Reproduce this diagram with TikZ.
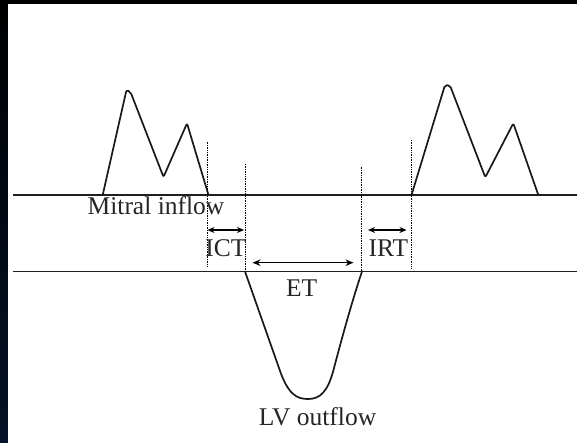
\documentclass[tikz,border=0pt]{standalone}
\usepackage{fontspec}
\setmainfont{Liberation Serif}
\usetikzlibrary{arrows.meta}
\begin{document}
\begin{tikzpicture}[x=1pt,y=-1pt,
  curve/.style={draw=black!90,line width=1.7pt,line join=round,line cap=round},
  base/.style={draw=black!88,line width=1.4pt},
  guide/.style={draw=black,line width=0.9pt,dash pattern=on 1pt off 0.7pt},
  dimarrow/.style={draw=black,line width=1.2pt,{Stealth[length=8pt,width=6.5pt]}-{Stealth[length=8pt,width=6.5pt]}},
  smallarrow/.style={draw=black,line width=1.2pt,{Stealth[length=7pt,width=6pt]}-{Stealth[length=7pt,width=6pt]}},
  lbl/.style={font=\fontsize{25.5}{29}\selectfont,text=black!85,inner sep=0pt,anchor=base}]
% background and frame
\useasboundingbox (0,0) rectangle (577,443);
\fill[black] (0,0) rectangle (577,443);
\shade[top color=black,bottom color={rgb,255:red,6;green,18;blue,40}] (0,0) rectangle (7.7,443);
\fill[white] (7.7,4.5) rectangle (577,443);
% baselines
\coordinate (u0) at (13,195); \coordinate (u1) at (577,195);
\coordinate (l0) at (13,271.5); \coordinate (l1) at (577,271.5);
\draw[base] (u0) -- (u1);
\draw[base] (l0) -- (l1);
% mitral waves
\draw[curve,rounded corners=2pt] (102.7,195) -- (126.5,90) -- (130.5,92) -- (163.5,177) -- (187,123.3) -- (208.5,195);
\draw[curve,rounded corners=2pt] (411.5,195) -- (445,85) -- (450,85.5) -- (485.3,177.3) -- (513.3,123.3) -- (538.3,195);
% LV outflow
\draw[curve] (245,271.5) -- (279,368) .. controls (288,395) and (297,399) .. (308,399)
   .. controls (320,399) and (328,392) .. (334,368) .. controls (344,330) and (354,295) .. (362,271.5);
% dotted guides
\coordinate (d1t) at (207.5,141.7); \coordinate (d1b) at (207.5,266);
\coordinate (d2t) at (245,164); \coordinate (d2b) at (245,271);
\coordinate (d3t) at (361.5,166.7); \coordinate (d3b) at (361.5,271);
\coordinate (d4t) at (411,140); \coordinate (d4b) at (411,269);
\draw[guide] (d1t) -- (d1b);
\draw[guide] (d2t) -- (d2b);
\draw[guide] (d3t) -- (d3b);
\draw[guide] (d4t) -- (d4b);
% interval arrows
\coordinate (ict0) at (207.5,230); \coordinate (ict1) at (244,230);
\coordinate (et0) at (252.5,262.7); \coordinate (et1) at (353.5,262.7);
\coordinate (irt0) at (368,230); \coordinate (irt1) at (406.5,230);
\draw[smallarrow] (ict0) -- (ict1);
\draw[dimarrow] (et0) -- (et1);
\draw[smallarrow] (irt0) -- (irt1);
% labels
\node[lbl] (mitral) at (156,214.3) {Mitral inflow};
\node[lbl] (ict) at (225.8,256) {ICT};
\node[lbl] (irt) at (388.3,256.5) {IRT};
\node[lbl] (et) at (301.7,296) {ET};
\node[lbl] (lv) at (317.5,425) {LV outflow};
\end{tikzpicture}
\end{document}
